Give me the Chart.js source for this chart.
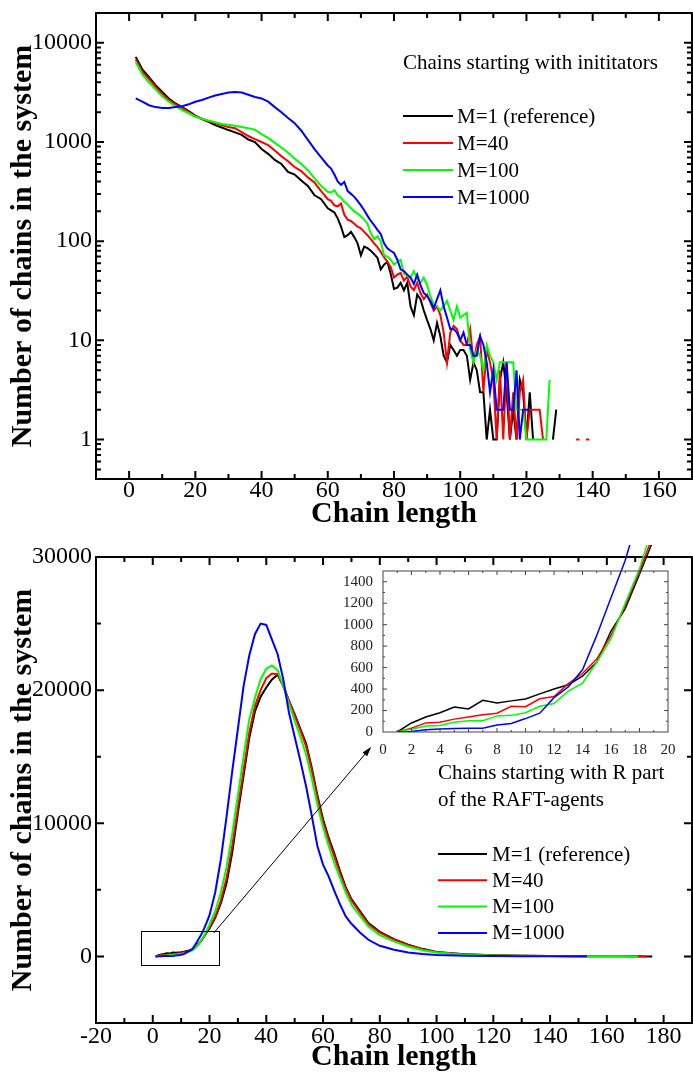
<!DOCTYPE html>
<html>
<head>
<meta charset="utf-8">
<script src="https://cdn.jsdelivr.net/npm/chart.js@4.4.1/dist/chart.umd.min.js"></script>
<style>
  html, body { margin: 0; padding: 0; background: #fff; }
  #page { position: relative; width: 693px; height: 1072px; overflow: hidden; }
  #page canvas { position: absolute; }
  #initChart { left: 0; top: 0; }
  #raftChart { left: 0; top: 532px; }
  #insetChart { left: 335px; top: 545px; }
</style>
</head>
<body>
<div id="page">
  <canvas id="initChart" width="693" height="532"></canvas>
  <canvas id="raftChart" width="693" height="540"></canvas>
  <canvas id="insetChart" width="345" height="212"></canvas>
</div>
<script>
// ---- chains starting with initiators (log plot) ----
const initLengths = [
  2, 4, 6, 8, 10, 12, 14, 16, 18, 20, 22, 24, 26, 28, 30,
  32, 34, 36, 38, 40, 42, 44, 46, 48, 50, 52, 54, 56, 58, 60,
  61, 62, 63, 64, 65, 66, 67, 68, 69, 70,
  71, 72, 73, 74, 75, 76, 77, 78, 79, 80,
  81, 82, 83, 84, 85, 86, 87, 88, 89, 90,
  91, 92, 93, 94, 95, 96, 97, 98, 99, 100,
  101, 102, 103, 104, 105, 106, 107, 108, 109, 110,
  111, 112, 113, 114, 115, 116, 117, 118, 119, 120,
  121, 122, 123, 124, 125, 126, 127, 128, 129, 130,
  131, 132, 133, 134, 135, 136, 137, 138, 139
];
const initM1 = [
  7200, 5400, 4500, 3750, 3200, 2750, 2450, 2250, 2050, 1850, 1700, 1600, 1480, 1400, 1320,
  1250, 1180, 1060, 1000, 850, 760, 660, 600, 500, 470, 410, 360, 290, 265, 215,
  205, 195, 170, 140, 110, 115, 124, 110, 95, 72,
  88, 85, 80, 74, 68, 52, 58, 62, 47, 33,
  34, 38, 32, 38, 22, 18, 29, 26, 20, 16,
  13, 10, 15, 11, 7, 6, 9, 8, 7, 8,
  8, 7, 4, 6, 5, 3, 3, 1, 2, 1,
  1, 4, 6, 3, 1, 2, 1, 4, 3, 1,
  3, 1, null, null, null, null, null, 1, 2, null,
  null, null, null, null, null, null, null, null, null
];
const initM40 = [
  6800, 5100, 4300, 3600, 3050, 2650, 2400, 2200, 2000, 1830, 1720, 1620, 1550, 1480, 1420,
  1380, 1260, 1150, 1070, 1000, 930, 820, 720, 640, 560, 510, 440, 390, 320, 265,
  255, 230, 225, 240, 185, 165, 160, 150, 140, 135,
  124, 115, 105, 95, 87, 78, 69, 62, 55, 43,
  46, 48, 40, 44, 35, 32, 38, 30, 26, 29,
  24, 20, 22, 18, 12, 6, 12, 14, 13, 10,
  9, 9, 13, 6, 9, 11, 3, 8, 6, 4,
  1, 5, 1, 6, 1, 3, 1, 3, 4, 1,
  2, 2, 2, 2, 1, null, null, null, null, null,
  null, null, null, null, 1, 1, null, 1, 1
];
const initM100 = [
  6400, 4800, 4000, 3400, 2900, 2550, 2300, 2100, 1950, 1800, 1720, 1650, 1580, 1520, 1490,
  1460, 1420, 1380, 1330, 1200, 1100, 980, 880, 780, 680, 600, 520, 430, 360, 315,
  310, 327, 290, 275, 250, 235, 215, 200, 190, 178,
  165, 150, 120, 105, 112, 100, 72, 70, 65, 58,
  62, 65, 47, 45, 43, 50, 42, 38, 43, 36,
  28, 23, 22, 20, 22, 25, 20, 16, 22, 17,
  18, 19, 8, 6, 8, 7, 5, 9, 7, 6,
  4, 6, 6, 6, 6, 6, 2, 2, 2, 1,
  1, 1, 1, 1, 1, 1, 4, null, null, null,
  null, null, null, null, null, null, null, null, null
];
const initM1000 = [
  2750, 2550, 2350, 2250, 2200, 2200, 2250, 2300, 2400, 2550, 2650, 2800, 2950, 3050, 3150,
  3200, 3150, 3000, 2850, 2750, 2550, 2250, 2000, 1750, 1550, 1300, 1050, 850, 700, 580,
  540, 470, 400, 370, 395, 320, 300, 280, 255, 230,
  205, 180, 160, 145, 130, 118, 95, 85, 80, 76,
  65, 52, 50, 46, 43, 37, 46, 36, 30, 28,
  25, 21, 26, 32, 22, 17, 13, 13, 12, 10,
  12, 9, 9, 7, 7, 11, 9, 6, 3, 5,
  2, 2, 2, 6, 2, 2, 5, 1, 2, 2,
  2, null, null, null, null, null, null, null, null, null,
  null, null, null, null, null, null, null, null, null
];
const initXLabels = [0, 20, 40, 60, 80, 100, 120, 140, 160];
const initXMinor = [10, 30, 50, 70, 90, 110, 130, 150];
const initYLabels = [1, 10, 100, 1000, 10000];

// ---- chains starting with the R part of the RAFT agents ----
const raftLengths = [
  1, 2, 3, 4, 5, 6, 7, 8, 9, 10, 11, 12, 13, 14, 15, 16, 17, 18, 19, 20,
  22, 24, 26, 28, 30, 32, 34, 36, 38, 40, 42, 44, 46, 48, 50,
  52, 54, 56, 58, 60, 62, 64, 66, 68, 70,
  73, 76, 80, 85, 90, 95, 100, 110, 120, 130, 140, 150, 153, 160, 165, 171, 174, 176
];
const raftM1 = [
  0, 84, 140, 180, 233, 215, 295, 270, 290, 308, 355, 400, 440, 520, 650, 940, 1150, 1470, 1800, 2100,
  2900, 4000, 5500, 7800, 10800, 13600, 16400, 18400, 19500, 20200, 20800, 21150, 20300, 19200, 18200,
  17100, 16000, 14200, 12100, 10300, 8900, 7700, 6400, 5200, 4300,
  3400, 2500, 1850, 1300, 880, 570, 340, 160, 90, 50, 30, 20, 18, 12, 8, 5, 3, 2
];
const raftM40 = [
  0, 35, 85, 90, 120, 140, 160, 175, 240, 235, 310, 330, 450, 545, 680, 900, 1180, 1500, 1850, 2200,
  3000, 4200, 5900, 8300, 11200, 14000, 16800, 18800, 20000, 20900, 21250, 21200, 20300, 19200, 18100,
  17000, 15800, 14000, 11900, 10100, 8700, 7500, 6200, 5100, 4200,
  3300, 2420, 1780, 1250, 840, 540, 320, 150, 85, 46, 28, 18, 16, 11, 7, 4, 3, null
];
const raftM100 = [
  0, 25, 55, 60, 90, 105, 105, 150, 155, 180, 240, 265, 380, 455, 650, 870, 1200, 1520, 1950, 2400,
  3400, 4800, 6700, 9200, 12100, 15000, 17800, 19400, 20800, 21600, 21850, 21500, 20300, 19000, 17700,
  16500, 15200, 13400, 11400, 9700, 8300, 7000, 5900, 4800, 3900,
  3050, 2250, 1600, 1130, 750, 470, 290, 130, 75, 42, 25, 16, 14, 10, 6, 4, null, null
];
const raftM1000 = [
  0, 5, 20, 28, 32, 35, 35, 65, 80, 125, 175, 320, 420, 580, 900, 1250, 1600, 2050, 2550, 3100,
  4800, 7300, 10500, 13900, 17100, 20300, 22600, 24200, 25000, 24900, 23800, 22700, 20800, 18300, 16500,
  14700, 12800, 10600, 8300, 6900, 6000, 4900, 3900, 3000, 2450,
  1800, 1250, 800, 500, 290, 180, 110, 60, 35, 20, 12, 8, 6, null, null, null, null, null
];
const raftXLabels = [-20, 0, 20, 40, 60, 80, 100, 120, 140, 160, 180];
const raftXMinor = [-10, 10, 30, 50, 70, 90, 110, 130, 150, 170];
const raftYLabels = [0, 10000, 20000, 30000];
const raftYMinor = [5000, 15000, 25000];

// zoomed view of short chains
const insetXLabels = [0, 2, 4, 6, 8, 10, 12, 14, 16, 18, 20];
const insetXMinor = [1, 3, 5, 7, 9, 11, 13, 15, 17, 19];
const insetYLabels = [0, 200, 400, 600, 800, 1000, 1200, 1400];
const insetYMinor = [100, 300, 500, 700, 900, 1100, 1300];

// area that the inset magnifies, and the arrow pointing at it (chain length, count)
const zoomBox = [-4, 23.5, -700, 1880];
const arrowFrom = [21.5, 1760];
const arrowTo = [77, 15750];

const seriesNames = ['M=1 (reference)', 'M=40', 'M=100', 'M=1000'];
const seriesColors = ['#000000', '#ff0000', '#00ff00', '#0000ff'];

const serif = "'Liberation Serif', 'Times New Roman', serif";
Chart.defaults.font.family = serif;
Chart.defaults.color = '#000';

// log-scale minor ticks: 2..9 in every decade
const initYMinor = [];
[0.1, 1, 10, 100, 1000, 10000].forEach(d => {
  for (let k = 2; k <= 9; k++) {
    const v = d * k;
    if (v >= 0.4 && v <= 20000) initYMinor.push(v);
  }
});

// closed frame with inward tick marks on all four sides
const frameTicks = {
  id: 'frameTicks',
  afterDraw(chart, args, o) {
    const {ctx, chartArea: a, scales: {x, y}} = chart;
    ctx.save();
    ctx.strokeStyle = o.color;
    ctx.lineWidth = o.width;
    ctx.lineCap = 'butt';
    ctx.beginPath();
    const xMarks = (list, len) => list.forEach(v => {
      const px = x.getPixelForValue(v);
      if (px <= a.left + 1 || px >= a.right - 1) return;
      ctx.moveTo(px, a.bottom); ctx.lineTo(px, a.bottom - len);
      ctx.moveTo(px, a.top); ctx.lineTo(px, a.top + len);
    });
    const yMarks = (list, len) => list.forEach(v => {
      const py = y.getPixelForValue(v);
      if (py <= a.top + 1 || py >= a.bottom - 1) return;
      ctx.moveTo(a.left, py); ctx.lineTo(a.left + len, py);
      ctx.moveTo(a.right, py); ctx.lineTo(a.right - len, py);
    });
    xMarks(o.xMajor, o.major);
    xMarks(o.xMinor, o.minor);
    yMarks(o.yMajor, o.major);
    yMarks(o.yMinor, o.minor);
    ctx.stroke();
    ctx.strokeRect(a.left, a.top, a.right - a.left, a.bottom - a.top);
    ctx.restore();
  }
};

// legend block drawn inside the plot area
const insideLegend = {
  id: 'insideLegend',
  afterDraw(chart, args, o) {
    const {ctx, chartArea: a} = chart;
    ctx.save();
    ctx.font = o.size + 'px ' + serif;
    ctx.fillStyle = '#000';
    ctx.textBaseline = 'middle';
    ctx.textAlign = 'left';
    const x0 = a.left + o.x;
    o.title.forEach((line, i) => ctx.fillText(line, x0, a.top + o.titleY + i * o.titleGap));
    seriesNames.forEach((name, i) => {
      const ly = a.top + o.firstY + i * o.gap;
      ctx.strokeStyle = seriesColors[i];
      ctx.lineWidth = 2;
      ctx.beginPath();
      ctx.moveTo(x0, ly);
      ctx.lineTo(x0 + o.lineLen, ly);
      ctx.stroke();
      ctx.fillText(name, x0 + o.lineLen + o.textGap, ly + 1);
    });
    ctx.restore();
  }
};

// rectangle around the short chains and the arrow to the inset
const zoomMarker = {
  id: 'zoomMarker',
  afterDraw(chart) {
    const {ctx, scales: {x, y}} = chart;
    const l = x.getPixelForValue(zoomBox[0]), r = x.getPixelForValue(zoomBox[1]);
    const b = y.getPixelForValue(zoomBox[2]), t = y.getPixelForValue(zoomBox[3]);
    ctx.save();
    ctx.strokeStyle = '#000';
    ctx.fillStyle = '#000';
    ctx.lineWidth = 1;
    ctx.strokeRect(Math.round(l) + 0.5, Math.round(t) + 0.5, Math.round(r - l), Math.round(b - t));
    const x0 = x.getPixelForValue(arrowFrom[0]), y0 = y.getPixelForValue(arrowFrom[1]);
    const x1 = x.getPixelForValue(arrowTo[0]), y1 = y.getPixelForValue(arrowTo[1]);
    const ang = Math.atan2(y1 - y0, x1 - x0);
    ctx.beginPath();
    ctx.moveTo(x0, y0);
    ctx.lineTo(x1 - 6 * Math.cos(ang), y1 - 6 * Math.sin(ang));
    ctx.stroke();
    ctx.beginPath();
    ctx.moveTo(x1, y1);
    ctx.lineTo(x1 - 10 * Math.cos(ang) + 3 * Math.sin(ang), y1 - 10 * Math.sin(ang) - 3 * Math.cos(ang));
    ctx.lineTo(x1 - 10 * Math.cos(ang) - 3 * Math.sin(ang), y1 - 10 * Math.sin(ang) + 3 * Math.cos(ang));
    ctx.closePath();
    ctx.fill();
    ctx.restore();
  }
};

// white card behind the inset plot
const insetBackground = {
  id: 'insetBackground',
  beforeDraw(chart) {
    const {ctx, chartArea: a} = chart;
    ctx.save();
    ctx.fillStyle = '#fff';
    ctx.fillRect(a.left, a.top, a.right - a.left, a.bottom - a.top);
    ctx.restore();
  }
};

function lineSets(xs, seriesList, width, extra) {
  return seriesList.map((ys, i) => Object.assign({
    label: seriesNames[i],
    data: xs.map((x, k) => ({x: x, y: ys[k]})),
    borderColor: seriesColors[i],
    backgroundColor: seriesColors[i],
    borderWidth: width,
    pointRadius: 0,
    tension: 0,
    order: 3 - i
  }, extra || {}));
}

function fixedTicks(list) {
  return scale => { scale.ticks = list.map(v => ({value: v})); };
}

const tickFont = {size: 24, family: serif};
const titleFont = {size: 30, weight: 'bold', family: serif, lineHeight: 1};

new Chart(document.getElementById('initChart'), {
  type: 'line',
  data: {datasets: lineSets(initLengths, [initM1, initM40, initM100, initM1000], 2)},
  plugins: [frameTicks, insideLegend],
  options: {
    responsive: false,
    animation: false,
    events: [],
    layout: {padding: {top: 13, right: 1, left: 0, bottom: 0}},
    plugins: {
      legend: {display: false},
      tooltip: {enabled: false},
      frameTicks: {xMajor: initXLabels, xMinor: initXMinor, yMajor: initYLabels, yMinor: initYMinor,
        major: 8, minor: 5, width: 2, color: '#000'},
      insideLegend: {x: 307, titleY: 50, titleGap: 27, firstY: 103, gap: 27, lineLen: 50, textGap: 4,
        size: 21, title: ['Chains starting with inititators']}
    },
    scales: {
      x: {
        type: 'linear', min: -10, max: 170,
        afterBuildTicks: fixedTicks(initXLabels),
        afterFit: s => { s.height = 53; },
        grid: {display: false}, border: {display: false},
        ticks: {font: Object.assign({lineHeight: 1}, tickFont), padding: -8, autoSkip: false, maxRotation: 0,
          callback: v => String(v)},
        title: {display: true, text: 'Chain length', font: titleFont, padding: {top: 0, bottom: 3}}
      },
      y: {
        type: 'logarithmic', min: 0.4, max: 20000,
        afterBuildTicks: fixedTicks(initYLabels),
        afterFit: s => { s.width = 96; },
        grid: {display: false}, border: {display: false},
        ticks: {font: tickFont, padding: -4, autoSkip: false, callback: v => String(v)},
        title: {display: true, text: 'Number of chains in the system', font: titleFont, padding: {top: 8, bottom: 0}}
      }
    }
  }
});

new Chart(document.getElementById('raftChart'), {
  type: 'line',
  data: {datasets: lineSets(raftLengths, [raftM1, raftM40, raftM100, raftM1000], 2)},
  plugins: [frameTicks, insideLegend, zoomMarker],
  options: {
    responsive: false,
    animation: false,
    events: [],
    layout: {padding: {top: 25, right: 1, left: 0, bottom: 0}},
    plugins: {
      legend: {display: false},
      tooltip: {enabled: false},
      frameTicks: {xMajor: raftXLabels, xMinor: raftXMinor, yMajor: raftYLabels, yMinor: raftYMinor,
        major: 8, minor: 5, width: 2, color: '#000'},
      insideLegend: {x: 342, titleY: 216, titleGap: 27, firstY: 297, gap: 26.3, lineLen: 49, textGap: 5,
        size: 21, title: ['Chains starting with R part', 'of the RAFT-agents']}
    },
    scales: {
      x: {
        type: 'linear', min: -20, max: 190,
        afterBuildTicks: fixedTicks(raftXLabels),
        afterFit: s => { s.height = 49; },
        grid: {display: false}, border: {display: false},
        ticks: {font: Object.assign({lineHeight: 1}, tickFont), padding: -6, autoSkip: false, maxRotation: 0,
          callback: v => String(v)},
        title: {display: true, text: 'Chain length', font: titleFont, padding: {top: 0, bottom: 0}}
      },
      y: {
        type: 'linear', min: -5000, max: 30000,
        afterBuildTicks: fixedTicks(raftYLabels),
        afterFit: s => { s.width = 96; },
        grid: {display: false}, border: {display: false},
        ticks: {font: tickFont, padding: -4, autoSkip: false, callback: v => String(v)},
        title: {display: true, text: 'Number of chains in the system', font: titleFont, padding: {top: 8, bottom: 0}}
      }
    }
  }
});

new Chart(document.getElementById('insetChart'), {
  type: 'line',
  data: {datasets: lineSets(raftLengths, [raftM1, raftM40, raftM100, raftM1000], 1.5,
    {clip: {left: 0, top: false, right: 0, bottom: 0}})},
  plugins: [insetBackground, frameTicks],
  options: {
    responsive: false,
    animation: false,
    events: [],
    layout: {padding: {top: 26, right: 12, left: 0, bottom: 0}},
    plugins: {
      legend: {display: false},
      tooltip: {enabled: false},
      frameTicks: {xMajor: insetXLabels, xMinor: insetXMinor, yMajor: insetYLabels, yMinor: insetYMinor,
        major: 4, minor: 2, width: 1, color: '#444'}
    },
    scales: {
      x: {
        type: 'linear', min: 0, max: 20,
        afterBuildTicks: fixedTicks(insetXLabels),
        afterFit: s => { s.height = 25; },
        grid: {display: false}, border: {display: false},
        ticks: {font: {size: 15, lineHeight: 1}, color: '#222', padding: 3, autoSkip: false, maxRotation: 0,
          callback: v => String(v)},
      },
      y: {
        type: 'linear', min: 0, max: 1500,
        afterBuildTicks: fixedTicks(insetYLabels),
        afterFit: s => { s.width = 48; },
        grid: {display: false}, border: {display: false},
        ticks: {font: {size: 15}, color: '#222', padding: 2, autoSkip: false, callback: v => String(v)}
      }
    }
  }
});
</script>
</body>
</html>
